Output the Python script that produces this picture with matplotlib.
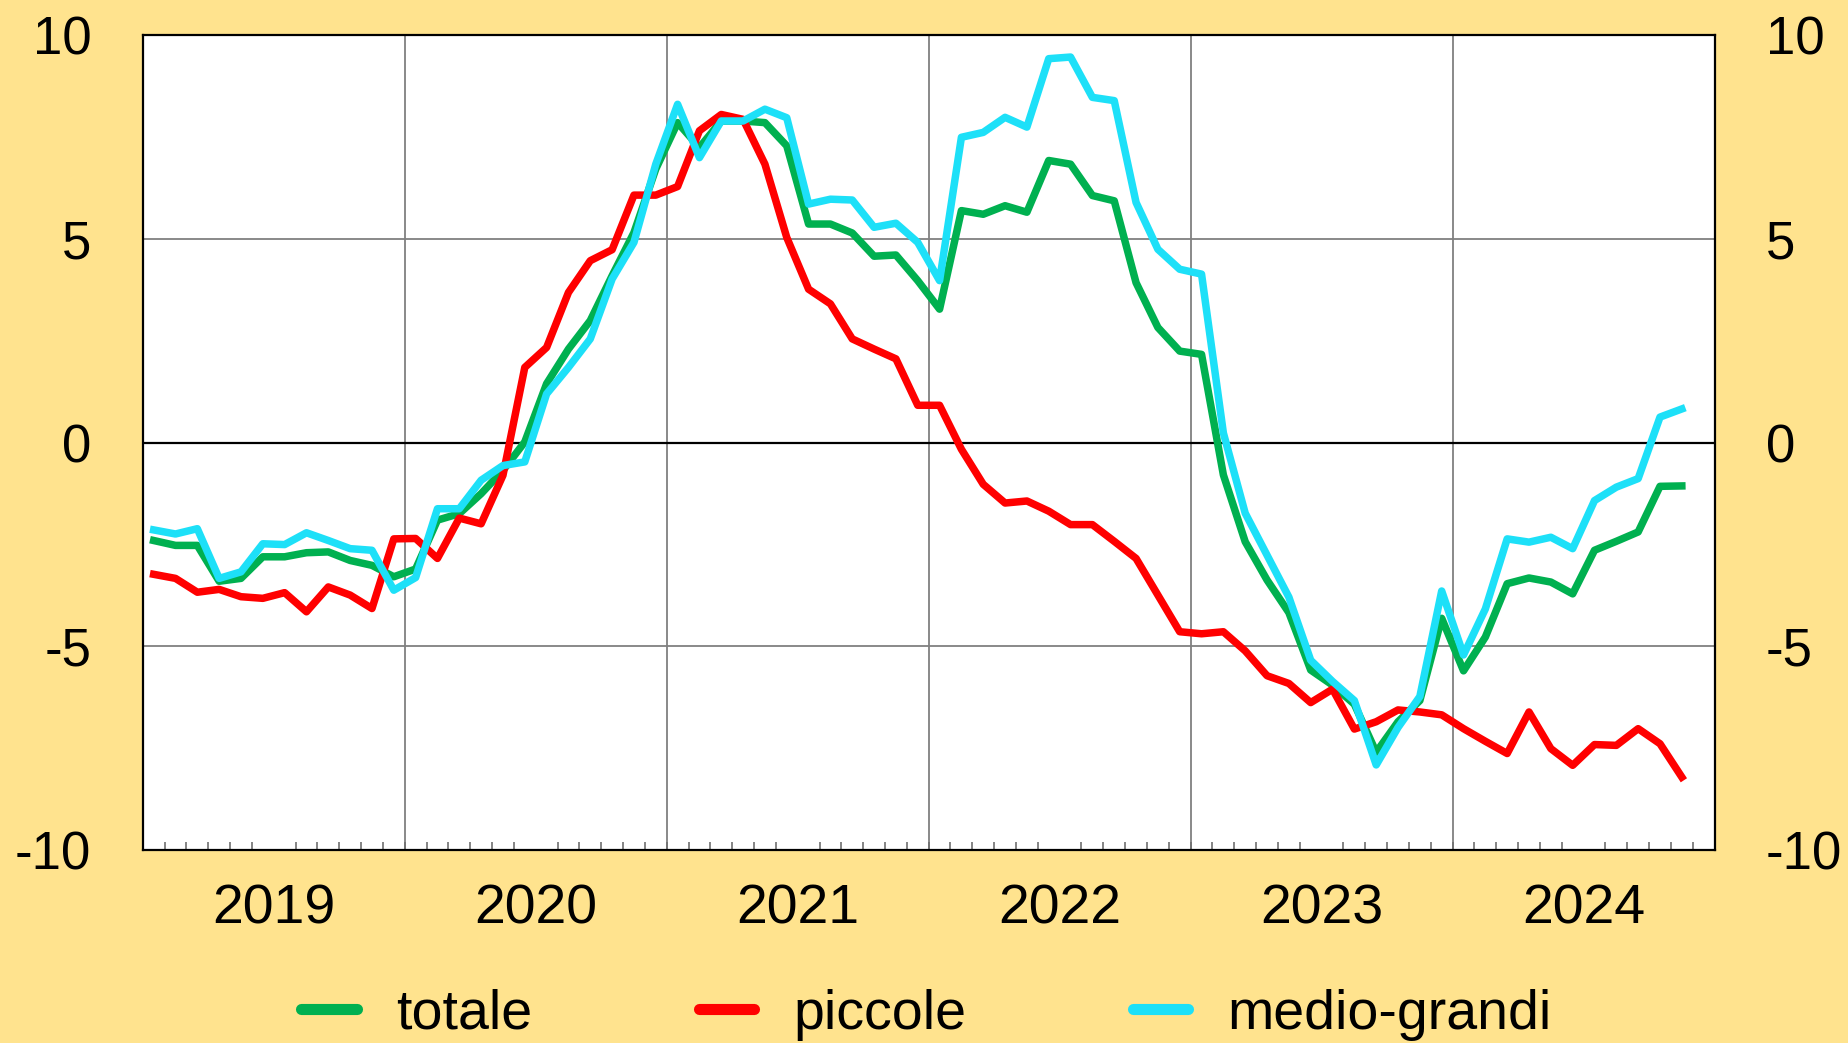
#!/usr/bin/env python3
import matplotlib
matplotlib.use("Agg")
import matplotlib.pyplot as plt
import numpy as np

plt.rcParams['font.family'] = ['Liberation Sans', 'DejaVu Sans']
plt.rcParams['axes.unicode_minus'] = False

# dati mensili, gen 2019 - nov 2024
years = ['2019', '2020', '2021', '2022', '2023', '2024']

totale = [-2.40, -2.52, -2.52, -3.40, -3.33, -2.80, -2.80, -2.70, -2.68, -2.89, -3.01, -3.29,
          -3.10, -1.90, -1.74, -1.25, -0.68, 0.02, 1.45, 2.30, 3.00, 4.10, 5.16, 6.72,
          7.86, 7.25, 7.90, 7.90, 7.86, 7.29, 5.37, 5.37, 5.15, 4.58, 4.61, 3.98,
          3.28, 5.70, 5.61, 5.82, 5.66, 6.93, 6.84, 6.07, 5.94, 3.93, 2.83, 2.25,
          2.17, -0.79, -2.43, -3.37, -4.17, -5.58, -5.95, -6.42, -7.60, -6.85, -6.33, -4.31,
          -5.60, -4.77, -3.46, -3.32, -3.42, -3.71, -2.64, -2.42, -2.19, -1.07, -1.06]

piccole = [-3.23, -3.33, -3.67, -3.60, -3.78, -3.82, -3.68, -4.15, -3.54, -3.74, -4.07, -2.36,
           -2.35, -2.84, -1.85, -1.99, -0.80, 1.85, 2.34, 3.69, 4.47, 4.74, 6.08, 6.08,
           6.29, 7.66, 8.06, 7.94, 6.84, 5.04, 3.77, 3.41, 2.55, 2.30, 2.06, 0.92,
           0.92, -0.16, -1.02, -1.48, -1.43, -1.68, -2.01, -2.01, -2.42, -2.84, -3.74, -4.64,
           -4.69, -4.64, -5.11, -5.72, -5.91, -6.38, -6.05, -7.03, -6.85, -6.56, -6.61, -6.68,
           -7.02, -7.33, -7.63, -6.61, -7.51, -7.92, -7.41, -7.43, -7.02, -7.39, -8.21]

medio_grandi = [-2.14, -2.24, -2.11, -3.33, -3.17, -2.48, -2.50, -2.21, -2.40, -2.60, -2.64, -3.62,
                -3.31, -1.62, -1.62, -0.92, -0.56, -0.47, 1.20, 1.85, 2.55, 4.02, 4.92, 6.84,
                8.31, 7.00, 7.90, 7.90, 8.19, 7.98, 5.86, 5.98, 5.96, 5.29, 5.39, 4.92,
                3.98, 7.50, 7.62, 7.99, 7.75, 9.43, 9.47, 8.48, 8.40, 5.90, 4.75, 4.26,
                4.14, 0.24, -1.73, -2.76, -3.79, -5.34, -5.86, -6.33, -7.91, -6.99, -6.23, -3.64,
                -5.21, -4.08, -2.36, -2.44, -2.32, -2.60, -1.42, -1.09, -0.88, 0.63, 0.83]

bg = '#FFE38E'
fig = plt.figure(figsize=(18.49, 10.43), dpi=100, facecolor=bg)
ax = fig.add_axes([0.0772, 0.185, 0.8501, 0.781])
ax.set_facecolor('white')

x = np.arange(len(totale)) + 0.5

# griglia
for v in range(12, 72, 12):
    ax.axvline(v, color='#808080', lw=1.3, zorder=1)
for v in (-5, 5):
    ax.axhline(v, color='#808080', lw=1.3, zorder=1)
ax.axhline(0, color='black', lw=1.6, zorder=1)

ax.plot(x, totale, color='#00B050', lw=5.4, label='totale', zorder=3)
ax.plot(x, piccole, color='#FF0000', lw=5.4, label='piccole', zorder=3)
ax.plot(x, medio_grandi, color='#1DE0F8', lw=5.4, label='medio-grandi', zorder=4)

ax.set_xlim(0, 72)
ax.set_ylim(-10, 10)
ax.set_yticks([-10, -5, 0, 5, 10])
ax.tick_params(axis='y', length=0, labelsize=38, pad=37, labelright=True)

ax.set_xticks([6 + 12 * i for i in range(len(years))])
ax.set_xticklabels(years)
ax.set_xticks(np.arange(0, 73), minor=True)
ax.tick_params(axis='x', which='major', length=0, labelsize=40, pad=24)
ax.tick_params(axis='x', which='minor', direction='in', length=6, width=1.2, color='#707070')

for s in ax.spines.values():
    s.set_color('black')
    s.set_linewidth(1.6)

fig.legend(loc='center', bbox_to_anchor=(0.501, 0.027), ncol=3, frameon=False,
           fontsize=40, handlelength=1.0, handletextpad=0.7, columnspacing=3.0)
for line in fig.legends[0].get_lines():
    line.set_linewidth(8)
    line.set_solid_capstyle('round')

fig.savefig('out.png', dpi=100, facecolor=bg)
